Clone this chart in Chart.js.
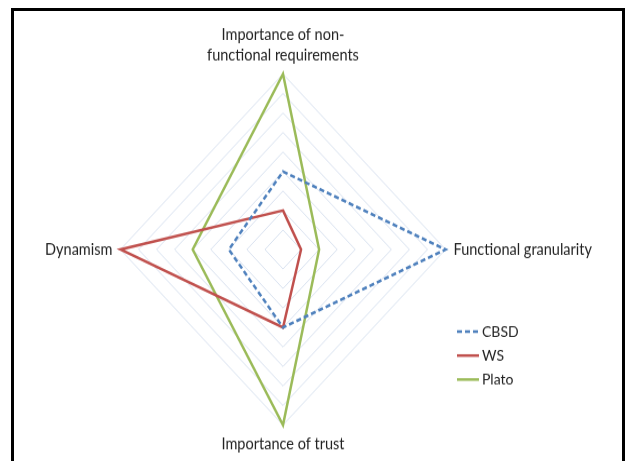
<!DOCTYPE html>
<html>
<head>
<meta charset="utf-8">
<script src="https://cdn.jsdelivr.net/npm/chart.js@4.4.1/dist/chart.umd.min.js"></script>
<style>
  html, body { margin: 0; padding: 0; background: #fff; }
  #page { position: relative; width: 625px; height: 461px; overflow: hidden; background: #fff; }
  #frame { position: absolute; left: 11px; top: 8px; width: 608px; height: 470px;
           border-top: 3px solid #000; border-left: 3px solid #000; border-right: 3px solid #000; }
  #wrap { position: absolute; left: 0; top: 0; width: 625px; height: 445px;
          transform: scaleY(1.08); transform-origin: 0 0; }
</style>
</head>
<body>
<div id="page">
  <div id="frame"></div>
  <div id="wrap"><canvas id="radar_chart"></canvas></div>
</div>
<script>
const axisLabels = [
    ["Importance of non-", "functional requirements"],
    "Functional granularity",
    "Importance of trust",
    "Dynamism"
];
const seriesNames = ["CBSD", "WS", "Plato"];
const cbsdValues = [4, 9, 4, 3];
const wsValues = [2, 1, 4, 9];
const platoValues = [9, 2, 9, 5];
const scaleMax = 9;

const seriesColors = ["#4F81BD", "#C0504D", "#9BBB59"];

// small legend drawn in the lower right, like the original
const sideLegend = {
    id: "sideLegend",
    afterDraw(chart) {
        const c = chart.ctx;
        c.save();
        c.font = "14px Lato";
        c.fillStyle = "#222";
        c.textBaseline = "middle";
        chart.data.datasets.forEach((ds, i) => {
            const y = 307 + i * 22.2;
            c.beginPath();
            c.strokeStyle = ds.borderColor;
            c.lineWidth = 2.5;
            c.setLineDash(ds.borderDash || []);
            c.moveTo(457, y);
            c.lineTo(479, y);
            c.stroke();
            c.setLineDash([]);
            c.fillText(ds.label, 482, y);
        });
        c.restore();
    }
};

const config_radar = {
    "type": "radar",
    "data": {
        "labels": axisLabels,
        "datasets": [
            {
                "label": seriesNames[0],
                "data": cbsdValues,
                "borderColor": seriesColors[0],
                "borderDash": [5, 3],
                "borderWidth": 2.5,
                "fill": false,
                "pointRadius": 0
            },
            {
                "label": seriesNames[1],
                "data": wsValues,
                "borderColor": seriesColors[1],
                "borderWidth": 2.5,
                "fill": false,
                "pointRadius": 0
            },
            {
                "label": seriesNames[2],
                "data": platoValues,
                "borderColor": seriesColors[2],
                "borderWidth": 2.5,
                "fill": false,
                "pointRadius": 0
            }
        ]
    },
    "options": {
        "responsive": true,
        "maintainAspectRatio": false,
        "animation": false,
        "layout": {
            "padding": { "left": 0, "right": 8, "top": 11, "bottom": 11 }
        },
        "elements": { "line": { "tension": 0 } },
        "plugins": {
            "legend": { "display": false },
            "tooltip": { "enabled": false }
        },
        "scales": {
            "r": {
                "min": 0,
                "max": scaleMax,
                "ticks": { "stepSize": 1, "display": false },
                "angleLines": { "display": false },
                "grid": { "color": "rgba(200,212,232,0.7)", "lineWidth": 1 },
                "pointLabels": {
                    "font": { "family": "Lato", "size": 14.5, "lineHeight": 1.3 },
                    "color": "#222",
                    "padding": 8
                }
            }
        }
    },
    "plugins": [sideLegend]
};

const ctx_radar = document.getElementById("radar_chart").getContext('2d');
const myChart_radar = new Chart(ctx_radar, config_radar);
</script>
</body>
</html>
